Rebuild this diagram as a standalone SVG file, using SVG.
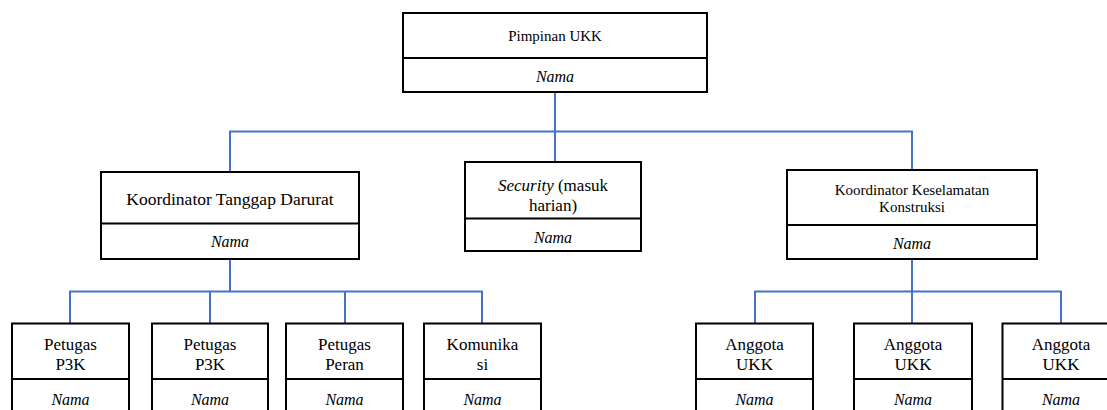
<svg xmlns="http://www.w3.org/2000/svg" width="1107" height="410" viewBox="0 0 1107 410">
<style>
.box{fill:#fff;stroke:#000;stroke-width:2}
.div{stroke:#000;stroke-width:2}
.con{fill:none;stroke:#4472C4;stroke-width:2}
text{fill:#000;text-anchor:middle}
.t15{font-size:15px}
.t17{font-size:17px}
.nm{font-size:16px;font-style:italic}
</style>
<rect width="1107" height="410" fill="#fff"/>
<g id="connectors">
<path class="con" d="M555 92V162"/>
<path class="con" d="M230 172V131.5H912V170"/>
<path class="con" d="M230 259V291.5"/>
<path class="con" d="M70 323V291.5H482V323"/>
<path class="con" d="M210 291.5V323"/>
<path class="con" d="M345 291.5V323"/>
<path class="con" d="M912 259V323"/>
<path class="con" d="M755 323V291.5H1061V323"/>
</g>
<g font-family="Liberation Serif, DejaVu Serif, Times New Roman, serif">
<g id="pimpinan">
<rect class="box" x="403" y="13" width="304" height="79"/>
<line class="div" x1="403" y1="58" x2="707" y2="58"/>
<text class="t15" x="555" y="41">Pimpinan UKK</text>
<text class="nm" x="555" y="82">Nama</text>
</g>
<g id="koordinator-tanggap">
<rect class="box" x="101" y="172" width="258" height="87"/>
<line class="div" x1="101" y1="223.5" x2="359" y2="223.5"/>
<text x="230" y="205" style="font-size:17.5px">Koordinator Tanggap Darurat</text>
<text class="nm" x="230" y="247">Nama</text>
</g>
<g id="security">
<rect class="box" x="465" y="162" width="176" height="89"/>
<line class="div" x1="465" y1="218.5" x2="641" y2="218.5"/>
<text class="t17" x="553" y="190.5"><tspan font-style="italic">Security</tspan> (masuk</text>
<text class="t17" x="553" y="210.5">harian)</text>
<text class="nm" x="553" y="242.5">Nama</text>
</g>
<g id="koordinator-keselamatan">
<rect class="box" x="787" y="170" width="250" height="89"/>
<line class="div" x1="787" y1="225" x2="1037" y2="225"/>
<text class="t15" x="912" y="195">Koordinator Keselamatan</text>
<text class="t15" x="912" y="212">Konstruksi</text>
<text class="nm" x="912" y="249">Nama</text>
</g>
<g id="petugas-p3k-1">
<rect class="box" x="12" y="323.5" width="117" height="100"/>
<line class="div" x1="12" y1="379" x2="129" y2="379"/>
<text class="t17" x="70.5" y="349.5">Petugas</text>
<text class="t17" x="70.5" y="369.5">P3K</text>
<text class="nm" x="70.5" y="404.5">Nama</text>
</g>
<g id="petugas-p3k-2">
<rect class="box" x="152" y="323.5" width="116" height="100"/>
<line class="div" x1="152" y1="379" x2="268" y2="379"/>
<text class="t17" x="210" y="349.5">Petugas</text>
<text class="t17" x="210" y="369.5">P3K</text>
<text class="nm" x="210" y="404.5">Nama</text>
</g>
<g id="petugas-peran">
<rect class="box" x="286" y="323.5" width="117" height="100"/>
<line class="div" x1="286" y1="379" x2="403" y2="379"/>
<text class="t17" x="344.5" y="349.5">Petugas</text>
<text class="t17" x="344.5" y="369.5">Peran</text>
<text class="nm" x="344.5" y="404.5">Nama</text>
</g>
<g id="komunikasi">
<rect class="box" x="424" y="323.5" width="117" height="100"/>
<line class="div" x1="424" y1="379" x2="541" y2="379"/>
<text class="t17" x="482.5" y="349.5">Komunika</text>
<text class="t17" x="482.5" y="369.5">si</text>
<text class="nm" x="482.5" y="404.5">Nama</text>
</g>
<g id="anggota-1">
<rect class="box" x="696" y="323.5" width="117" height="100"/>
<line class="div" x1="696" y1="379" x2="813" y2="379"/>
<text class="t17" x="754.5" y="349.5">Anggota</text>
<text class="t17" x="754.5" y="369.5">UKK</text>
<text class="nm" x="754.5" y="404.5">Nama</text>
</g>
<g id="anggota-2">
<rect class="box" x="854" y="323.5" width="118" height="100"/>
<line class="div" x1="854" y1="379" x2="972" y2="379"/>
<text class="t17" x="913" y="349.5">Anggota</text>
<text class="t17" x="913" y="369.5">UKK</text>
<text class="nm" x="913" y="404.5">Nama</text>
</g>
<g id="anggota-3">
<rect class="box" x="1002.5" y="323.5" width="117" height="100"/>
<line class="div" x1="1002.5" y1="379" x2="1119.5" y2="379"/>
<text class="t17" x="1061" y="349.5">Anggota</text>
<text class="t17" x="1061" y="369.5">UKK</text>
<text class="nm" x="1061" y="404.5">Nama</text>
</g>
</g>
</svg>
